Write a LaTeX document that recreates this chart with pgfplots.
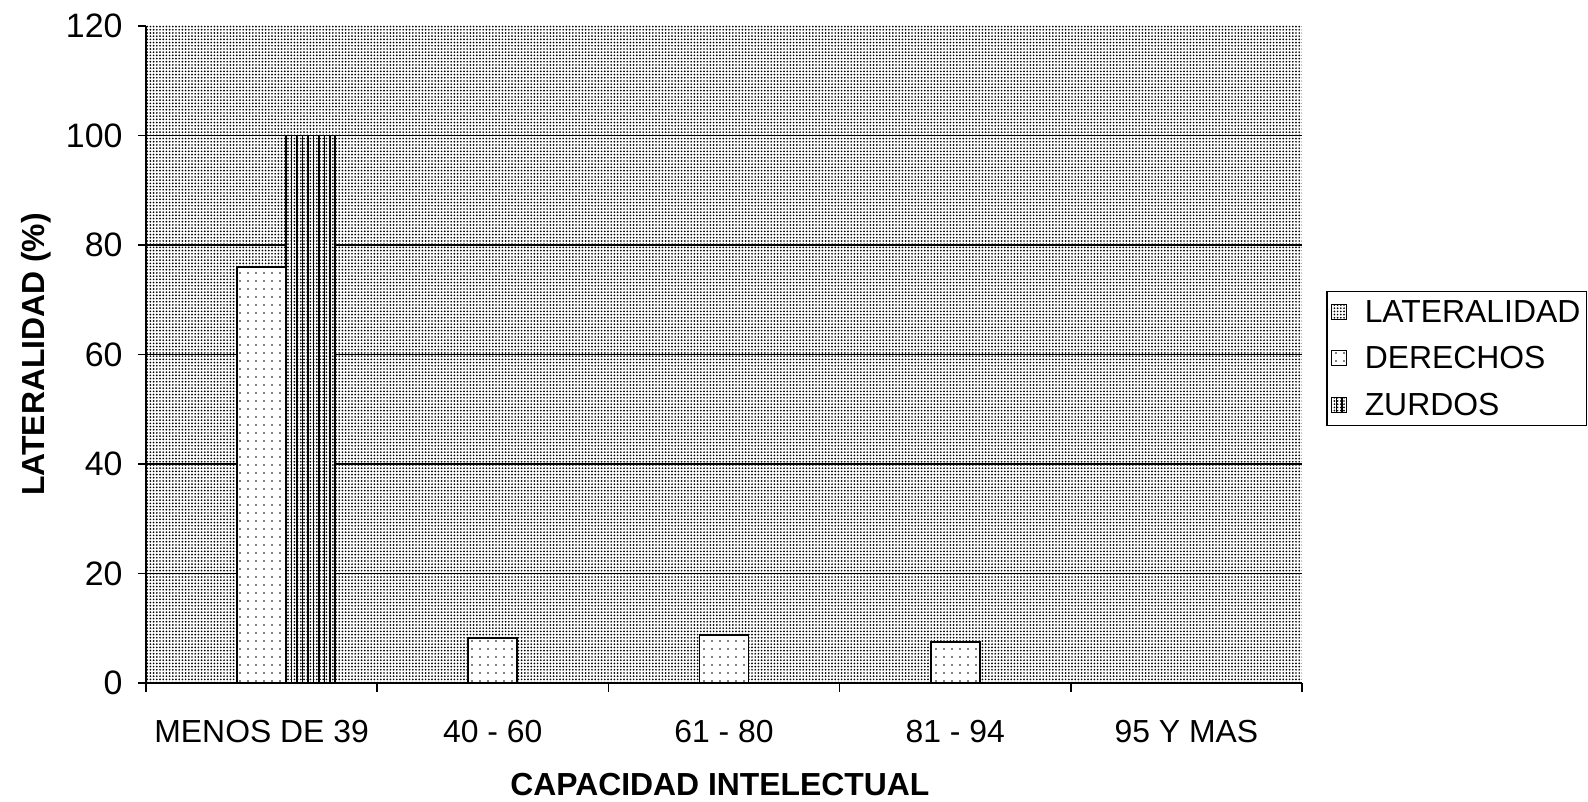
\documentclass[border=0pt]{standalone}
\usepackage{fontspec}
\setmainfont{Liberation Sans}
\usepackage{pgfplots}
\pgfplotsset{compat=1.18}
\usetikzlibrary{patterns.meta}

\tikzset{
  bgpat/.style={pattern={Dots[distance=3.2bp, radius=0.95bp]}, pattern color=black},
}

\begin{document}
\begin{tikzpicture}[x=1bp,y=1bp]
\begin{axis}[
  at={(146bp,118bp)}, anchor=south west,
  scale only axis, width=1156bp, height=657bp,
  ybar=0pt, bar width=49bp,
  xmin=-0.5, xmax=4.5, ymin=0, ymax=120,
  axis x line*=bottom, axis y line*=left,
  axis line style={line width=2bp, black},
  xtick={0,1,2,3,4},
  xticklabels={MENOS DE 39, 40 - 60, 61 - 80, 81 - 94, 95 Y MAS},
  minor xtick={-0.5,0.5,1.5,2.5,3.5,4.5},
  major x tick style={draw=none},
  minor x tick style={black, line width=1.5bp},
  minor tick length=9bp,
  major tick length=8bp,
  xtick align=outside, ytick align=outside,
  ytick={0,20,...,120},
  ytick style={black, line width=1.5bp},
  extra y ticks={20,40,60,80,100},
  extra y tick labels={},
  extra y tick style={major tick length=0pt, grid=major, grid style={black, line width=1.5bp}},
  /pgf/number format/assume math mode=true,
  scaled y ticks=false,
  xticklabel style={font=\fontsize{32}{38}\selectfont, yshift=-26bp},
  yticklabel style={font=\fontsize{34}{40}\selectfont, xshift=-12bp},
  axis background/.style={fill=white, postaction={bgpat}},
  xlabel={CAPACIDAD INTELECTUAL},
  ylabel={LATERALIDAD (\%)},
  xlabel style={at={(axis description cs:0.4965,-0.155)}, anchor=center, font=\bfseries\fontsize{32}{38}\selectfont},
  ylabel style={at={(axis description cs:-0.095,0.5)}, anchor=center, font=\bfseries\fontsize{32}{38}\selectfont},
  legend image code/.code={\draw[#1, line width=1bp] (0bp,-7.5bp) rectangle (15bp,7.5bp);},
  legend style={at={(axis description cs:1.0208,0.5967)}, anchor=north west,
    draw=black, line width=1.5bp, font=\fontsize{32}{38}\selectfont,
    inner xsep=4bp, inner ysep=7bp, row sep=18.5bp, cells={anchor=west}},
  legend cell align=left,
]
\addplot[draw=black, line width=1.8bp, fill=white, postaction={bgpat}]
  coordinates {(0,0) (1,0) (2,0) (3,0) (4,0)};
\addplot[draw=black, line width=1.8bp, fill=white,
  postaction={pattern={Dots[distance=8bp, radius=0.9bp]}, pattern color=black}]
  coordinates {(0,76) (1,8.2) (2,8.8) (3,7.5) (4,0)};
\addplot[draw=black, line width=1.8bp, fill=white, postaction={bgpat},
  postaction={pattern={Lines[angle=90, distance=5.5bp, line width=1.2bp]}, pattern color=black}]
  coordinates {(0,100) (1,0) (2,0) (3,0) (4,0)};
\legend{\hspace*{16bp}LATERALIDAD, \hspace*{16bp}DERECHOS, \hspace*{16bp}ZURDOS}
\end{axis}
\pgfresetboundingbox
\path[use as bounding box] (0,0) rectangle (1588,801);
\end{tikzpicture}
\end{document}
